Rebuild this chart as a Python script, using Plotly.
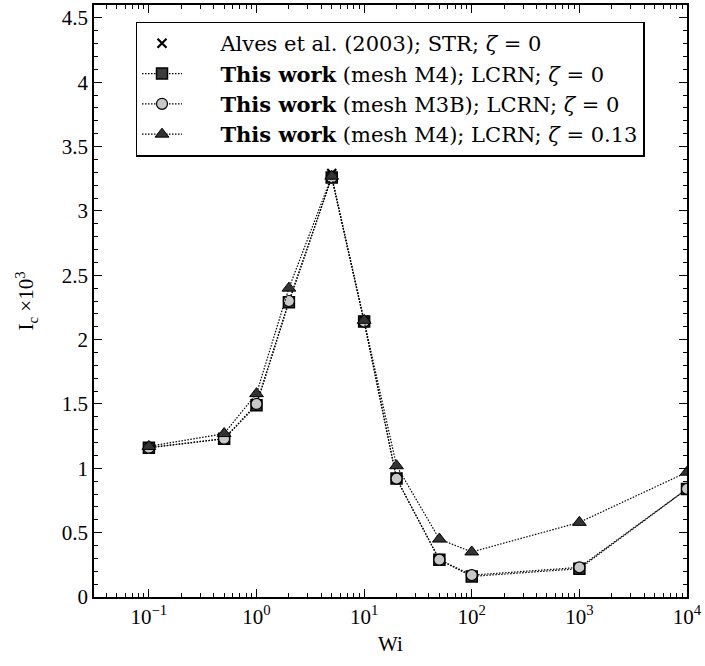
import plotly.graph_objects as go

wi = [0.1, 0.5, 1, 2, 5, 10, 20, 50, 100, 1000, 10000]
alves_wi = [0.1, 0.5, 1, 2, 5, 10, 20, 50, 100]
alves = [1.16, 1.23, 1.50, 2.30, 3.29, 2.15, 0.92, 0.29, 0.16]
m4 = [1.16, 1.23, 1.49, 2.29, 3.26, 2.14, 0.92, 0.29, 0.16, 0.22, 0.84]
m3b = [1.16, 1.23, 1.50, 2.30, 3.26, 2.14, 0.92, 0.29, 0.17, 0.23, 0.84]
m4z = [1.17, 1.27, 1.58, 2.40, 3.27, 2.15, 1.02, 0.45, 0.35, 0.58, 0.97]

pad = "&nbsp;" * 5
names = [
    pad + "Alves et al. (2003); STR; <i>ζ</i> = 0",
    pad + "<b>This work</b> (mesh M4); LCRN; <i>ζ</i> = 0",
    pad + "<b>This work</b> (mesh M3B); LCRN; <i>ζ</i> = 0",
    pad + "<b>This work</b> (mesh M4); LCRN; <i>ζ</i> = 0.13",
]

xtickvals = [0.1, 1, 10, 100, 1000, 10000]
xticktext = ["10<sup>−1</sup>", "10<sup>0</sup>", "10<sup>1</sup>", "10<sup>2</sup>", "10<sup>3</sup>", "10<sup>4</sup>"]
ytickvals = [0, 0.5, 1, 1.5, 2, 2.5, 3, 3.5, 4, 4.5]
yticktext = ["0", "0.5", "1", "1.5", "2", "2.5", "3", "3.5", "4", "4.5"]

dash = "1.5px,1.5px"
fig = go.Figure()
fig.add_trace(go.Scatter(x=alves_wi, y=alves, mode="markers", name=names[0],
                         marker=dict(symbol="x-thin", size=9, line=dict(color="black", width=2.2), color="black")))
fig.add_trace(go.Scatter(x=wi, y=m4, mode="lines+markers", name=names[1],
                         line=dict(color="black", width=1.2, dash=dash),
                         marker=dict(symbol="square", size=11, color="#3c3c3c", line=dict(color="black", width=1.5))))
fig.add_trace(go.Scatter(x=wi, y=m3b, mode="lines+markers", name=names[2],
                         line=dict(color="black", width=1.2, dash=dash),
                         marker=dict(symbol="circle", size=11, color="#c8c8c8", line=dict(color="black", width=1.2))))
fig.add_trace(go.Scatter(x=wi, y=m4z, mode="lines+markers", name=names[3],
                         line=dict(color="black", width=1.2, dash=dash),
                         marker=dict(symbol="triangle-up", size=12, color="#333333", line=dict(color="black", width=1))))

font = "Liberation Serif"
fig.update_layout(
    width=705, height=666,
    margin=dict(l=94, r=17, t=3, b=69),
    paper_bgcolor="white", plot_bgcolor="white",
    font=dict(family=font, size=20, color="black"),
    showlegend=True,
    legend=dict(x=0.07, y=0.972, xanchor="left", yanchor="top",
                bordercolor="black", borderwidth=1.5, bgcolor="white",
                font=dict(family="DejaVu Serif", size=21), itemwidth=40,
                tracegroupgap=4),
)
fig.update_xaxes(type="log", range=[-1.51, 4], tickvals=xtickvals, ticktext=xticktext,
                 ticks="inside", ticklen=8, tickwidth=1, tickcolor="black",
                 minor=dict(ticks="inside", ticklen=4, tickwidth=1, tickcolor="black", dtick="D1", showgrid=False),
                 showline=True, linecolor="black", linewidth=1.5, mirror="allticks",
                 showgrid=False, zeroline=False,
                 title=dict(text="Wi", font=dict(size=21), standoff=8),
                 tickfont=dict(size=21))
fig.update_yaxes(range=[0, 4.6], tickvals=ytickvals, ticktext=yticktext,
                 ticks="inside", ticklen=8, tickwidth=1, tickcolor="black",
                 minor=dict(ticks="inside", ticklen=4, tickwidth=1, tickcolor="black", dtick=0.1, showgrid=False),
                 showline=True, linecolor="black", linewidth=1.5, mirror="allticks",
                 showgrid=False, zeroline=False,
                 title=dict(text="I<sub>c</sub> ×10<sup>3</sup>", font=dict(size=21), standoff=22),
                 tickfont=dict(size=21))

fig.write_html("out.html")
